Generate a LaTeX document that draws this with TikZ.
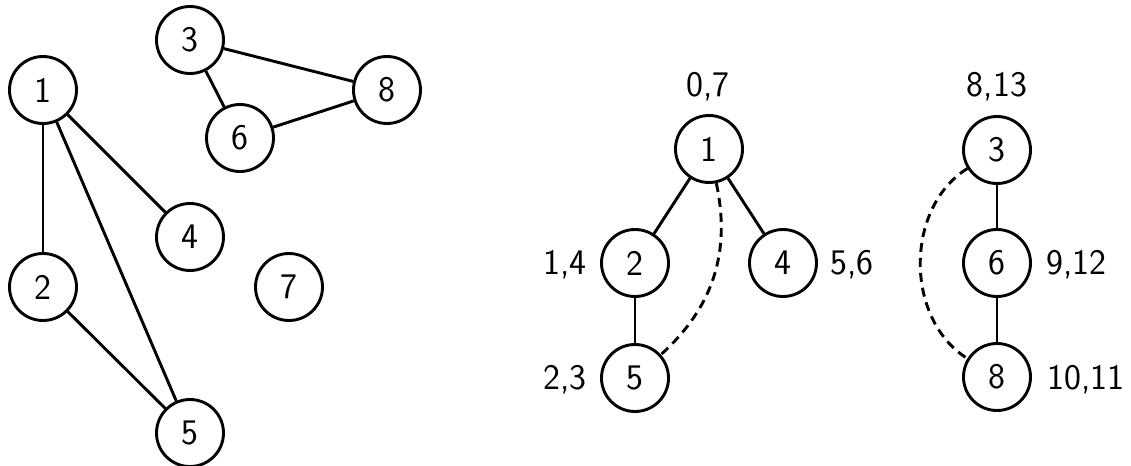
\documentclass[tikz,border=0pt]{standalone}
\begin{document}
\begin{tikzpicture}[x=0.5pt,y=-0.5pt,
  vtx/.style={circle,draw,line width=1.45pt,minimum size=33.5pt,inner sep=0pt,font=\sffamily\fontsize{18}{21}\selectfont},
  lbl/.style={anchor=base,inner sep=0pt,font=\sffamily\fontsize{18}{21}\selectfont},
  edge/.style={line width=1.45pt},
  back/.style={line width=1.45pt,dash pattern=on 4.5pt off 3pt}]
\useasboundingbox (0,0) rectangle (1131,466);
% left graph
\node[vtx] (a1) at (43,90) {1};
\node[vtx] (a3) at (190,40) {3};
\node[vtx] (a8) at (387,90) {8};
\node[vtx] (a6) at (240,138) {6};
\node[vtx] (a4) at (190,237) {4};
\node[vtx] (a2) at (43,287) {2};
\node[vtx] (a7) at (289,287) {7};
\node[vtx] (a5) at (190,433) {5};
\draw[edge] (a1) -- (a2);
\draw[edge] (a1) -- (a5);
\draw[edge] (a1) -- (a4);
\draw[edge] (a2) -- (a5);
\draw[edge] (a3) -- (a6);
\draw[edge] (a3) -- (a8);
\draw[edge] (a6) -- (a8);
% DFS tree 1
\node[vtx] (b1) at (709,149) {1};
\node[vtx] (b2) at (635,263) {2};
\node[vtx] (b4) at (783,263) {4};
\node[vtx] (b5) at (635,378) {5};
\draw[edge] (b1) -- (b2);
\draw[edge] (b1) -- (b4);
\draw[edge] (b2) -- (b5);
\draw[back] (b1) to[bend left=30] (b5);
\node[lbl] (l1) at (708,97) {0,7};
\node[lbl,anchor=base east] (l2) at (587,274) {1,4};
\node[lbl,anchor=base west] (l4) at (830,274) {5,6};
\node[lbl,anchor=base east] (l5) at (587,389) {2,3};
% DFS tree 2
\node[vtx] (b3) at (997,150) {3};
\node[vtx] (b6) at (997,263) {6};
\node[vtx] (b8) at (997,377) {8};
\draw[edge] (b3) -- (b6);
\draw[edge] (b6) -- (b8);
\draw[back] (b3) to[bend right=58] (b8);
\node[lbl] (l3) at (997,97) {8,13};
\node[lbl,anchor=base west] (l6) at (1046,274) {9,12};
\node[lbl,anchor=base west] (l8) at (1047,389) {10,11};
\end{tikzpicture}
\end{document}
